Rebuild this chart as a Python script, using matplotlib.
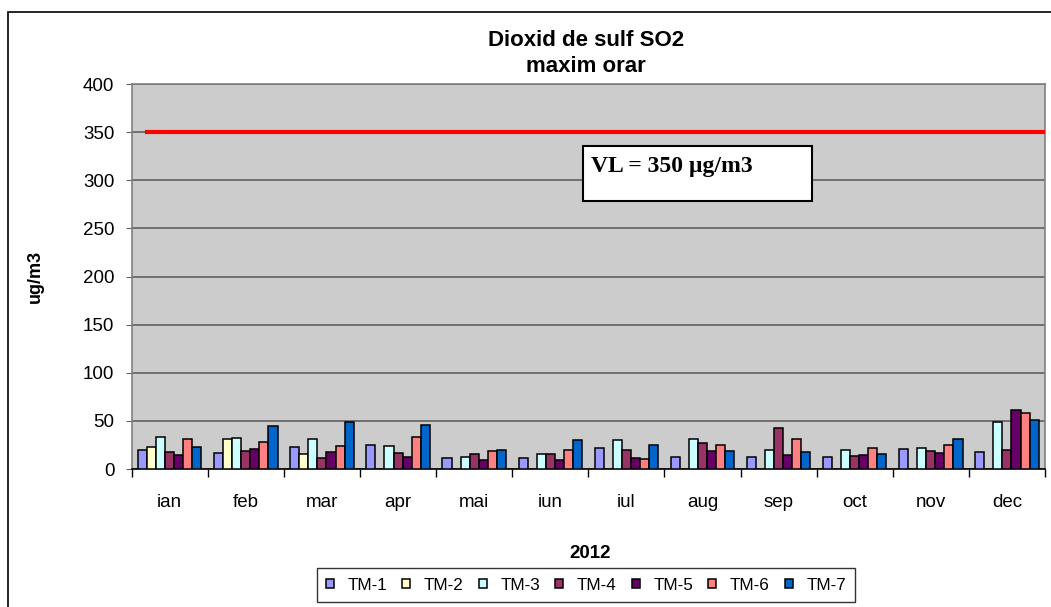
import numpy as np
import matplotlib
matplotlib.use("Agg")
import matplotlib.pyplot as plt
from matplotlib.patches import Rectangle

plt.rcParams['font.family'] = ['Liberation Sans', 'DejaVu Sans']

months = ['ian', 'feb', 'mar', 'apr', 'mai', 'iun', 'iul', 'aug', 'sep', 'oct', 'nov', 'dec']
stations = ['TM-1', 'TM-2', 'TM-3', 'TM-4', 'TM-5', 'TM-6', 'TM-7']
nan = np.nan
tm1 = [20, 17, 22.5, 24.6, 11.4, 11.4, 21.5, 12.8, 12.8, 12.8, 20.4, 17.6]
tm2 = [22.5, 31.5, 15.6, nan, nan, nan, nan, nan, nan, nan, nan, nan]
tm3 = [33.6, 32.5, 31.5, 23.5, 12.5, 15.6, 29.8, 31.5, 19.7, 19.7, 21.5, 48.8]
tm4 = [17.6, 19, 11.8, 16.6, 15.6, 15.6, 19.7, 26.7, 42.6, 13.2, 18.7, 19.7]
tm5 = [14.9, 20.8, 17.6, 12.5, 9, 9, 11.8, 18.7, 14.5, 14.5, 16.6, 61.3]
tm6 = [31.5, 28, 23.5, 33.6, 18.7, 19.7, 10.7, 24.6, 31.5, 21.5, 24.6, 57.8]
tm7 = [23.2, 44.7, 48.5, 45.4, 19.7, 29.8, 24.6, 18.7, 17.6, 15.6, 31.5, 51.2]
series = [tm1, tm2, tm3, tm4, tm5, tm6, tm7]
colors = ['#9999FF', '#FFFFCC', '#CCFFFF', '#993366', '#660066', '#FF8080', '#0066CC']
limit_value = 350

fig = plt.figure(figsize=(10.51, 6.07), dpi=100)
ax = fig.add_axes([0.1253, 0.2273, 0.8690, 0.6343])
ax.set_facecolor('#CCCCCC')

x = np.arange(len(months))
w = 0.119
for i, (vals, col, name) in enumerate(zip(series, colors, stations)):
    ax.bar(x + (i - 3) * w, vals, w, color=col, edgecolor='black', linewidth=1.1,
           label=name, zorder=3)

ax.plot([-0.3, 11.47], [limit_value, limit_value], color='#FF0000', lw=3, zorder=4)

ax.set_xlim(-0.5, 11.5)
ax.set_ylim(0, 400)
ax.set_yticks(range(0, 401, 50))
ax.yaxis.grid(True, color='#606060', lw=1.2, zorder=1)
ax.set_axisbelow(True)
ax.set_xticks(x)
ax.set_xticklabels(months, fontsize=13.5)
ax.set_xticks(np.arange(-0.5, 12, 1), minor=True)
ax.tick_params(axis='x', which='major', length=0, pad=18)
ax.tick_params(axis='x', which='minor', length=6, color='black', width=1)
ax.tick_params(axis='y', labelsize=13.5, length=4.5, color='#606060', pad=8)
for s in ax.spines.values():
    s.set_color('#808080')
    s.set_linewidth(1.2)
ax.spines['bottom'].set_color('black')

fig.text(35 / 1051, 0.5 * (0.2273 + 0.8616), 'ug/m3', rotation=90, ha='center',
         va='center', fontsize=13, fontweight='bold')
fig.text(590 / 1051, (607 - 553) / 607, '2012', ha='center', va='center',
         fontsize=13.5, fontweight='bold')

fig.text(586 / 1051, (607 - 40) / 607, 'Dioxid de sulf SO2', ha='center', va='center',
         fontsize=16, fontweight='bold')
fig.text(586 / 1051, (607 - 67) / 607, 'maxim orar', ha='center', va='center',
         fontsize=16, fontweight='bold')

# VL label box
fig.add_artist(Rectangle((583 / 1051, (607 - 201) / 607), 229 / 1051, 55 / 607,
                         transform=fig.transFigure, facecolor='white',
                         edgecolor='black', lw=1.5, zorder=5))
fig.text(591 / 1051, (607 - 171.5) / 607, 'VL = 350 µg/m3', fontsize=17,
         fontweight='bold', family=['Liberation Serif', 'DejaVu Serif'],
         ha='left', va='baseline', zorder=6)

leg = fig.legend(loc='center', bbox_to_anchor=(586 / 1051, (607 - 585) / 607), ncol=7,
                 fontsize=12.3, frameon=True, fancybox=False, edgecolor='black',
                 handlelength=0.45, handleheight=0.45, handletextpad=0.8,
                 columnspacing=0.9, borderpad=0.55)
leg.get_frame().set_linewidth(1.0)

fig.add_artist(Rectangle((8 / 1051, -0.05), 1.2, (607 - 12) / 607 + 0.05,
                         transform=fig.transFigure, fill=False,
                         edgecolor='black', lw=1.2))

fig.savefig('out.png', dpi=100)
